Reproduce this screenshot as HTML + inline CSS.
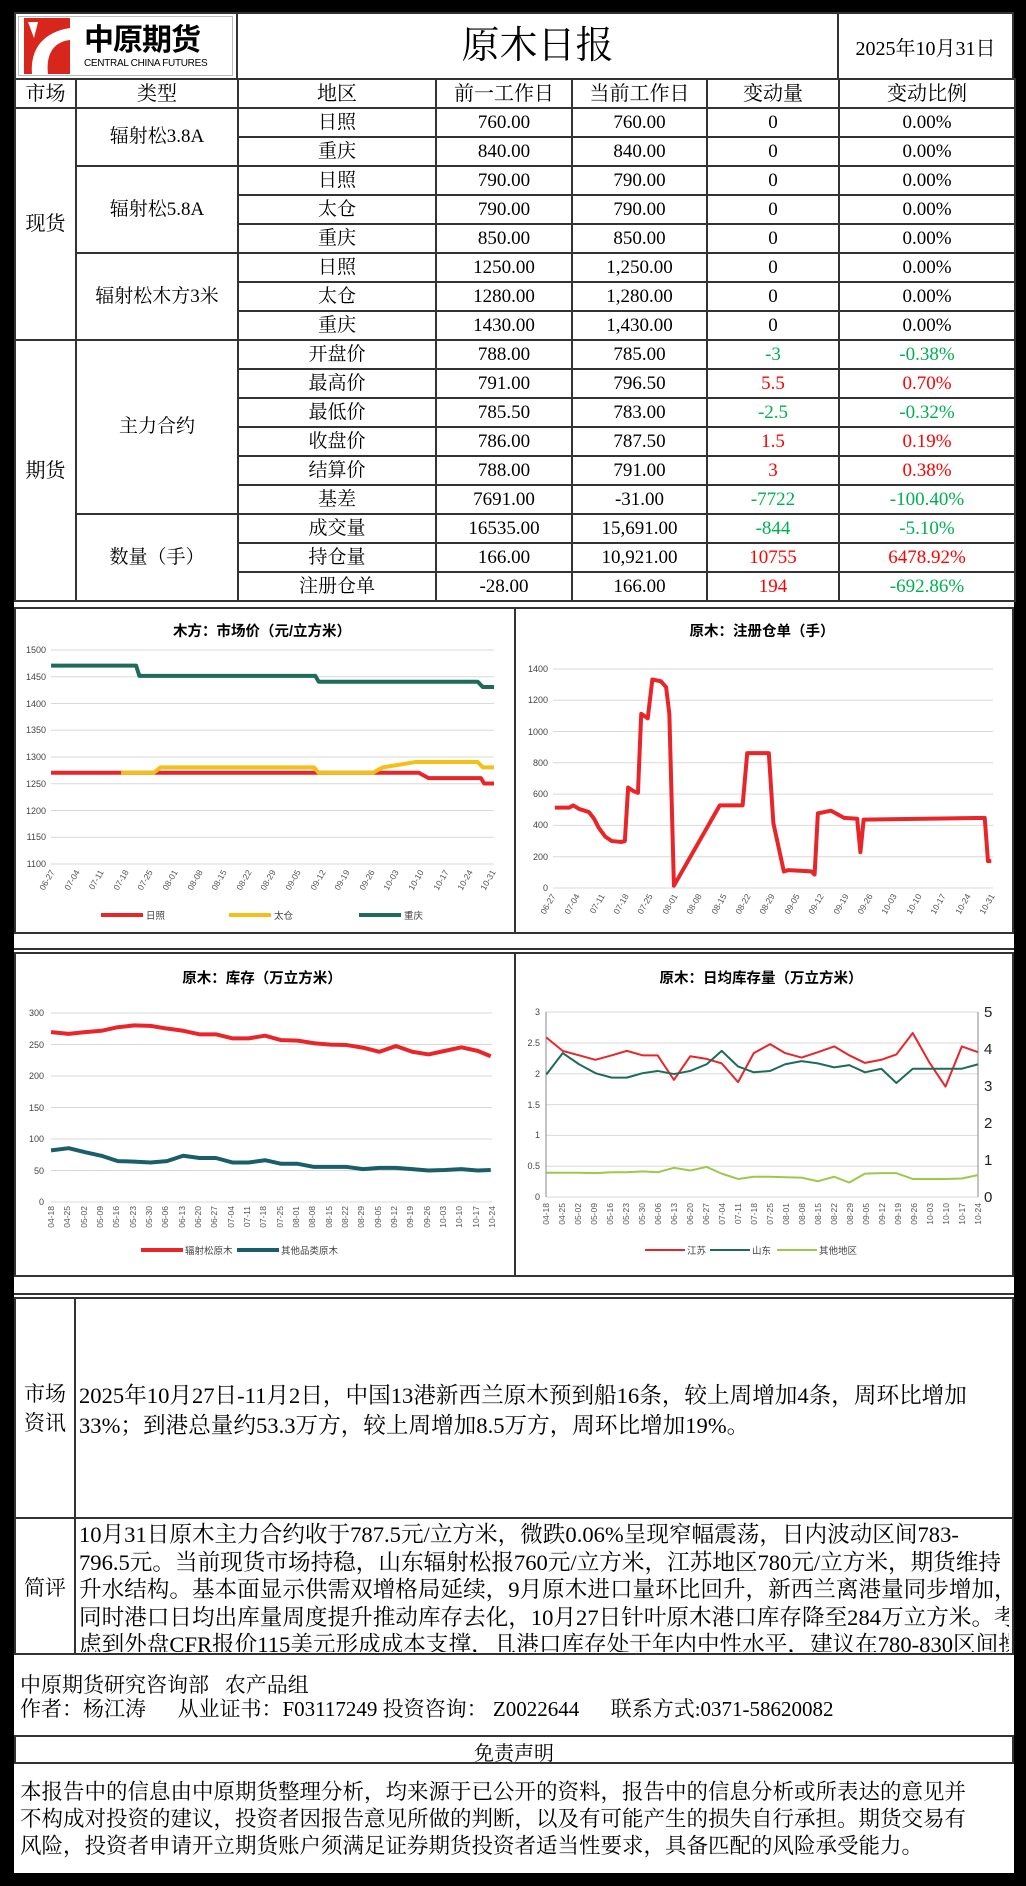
<!DOCTYPE html>
<html><head><meta charset="utf-8"><style>
*{margin:0;padding:0;box-sizing:border-box}
body{width:1026px;height:1886px;background:#000;position:relative;overflow:hidden;font-family:"Liberation Serif","Noto Serif CJK SC",serif;color:#000}
.page{position:absolute;left:14px;top:12px;width:1000px;height:1861px;background:#fff}
.abs{position:absolute}
table{position:absolute;left:14px;top:78px;width:1000px;border-collapse:collapse;table-layout:fixed}
tr{height:29px}
td{border:2px solid #333;text-align:center;font-size:19px;padding:0;line-height:24px;white-space:nowrap}
th{border:2px solid #333;font-weight:normal;font-size:20px;padding:0;line-height:24px}
.g{color:#00b050}.r{color:#f00}
.cell{position:absolute;border:2px solid #333;background:#fff}
.txt{font-size:22.6px;white-space:nowrap;line-height:27.5px}
</style></head><body>
<div class="page"></div>
<!-- header -->
<div class="cell" style="left:14px;top:12px;width:224px;height:68px"></div>
<div class="abs" style="left:18px;top:16px;width:215px;height:60px;border:1px solid #bbb"></div>
<svg class="abs" style="left:24px;top:18px" width="48" height="56"><rect x="0" y="0" width="46" height="56" fill="#d9261c"/><path d="M8 56 C6 30 20 14 46 10 L46 22 C28 24 22 38 24 56Z" fill="#fff"/><path d="M4 4 L14 4 L10 20Z" fill="#fff"/></svg>
<div class="abs" style="left:84px;top:20px;font-size:30px;font-weight:bold;font-family:'Noto Sans CJK SC',sans-serif;letter-spacing:-1px;line-height:34px">中原期货</div>
<div class="abs" style="left:84px;top:58px;font-size:10px;font-family:'Liberation Sans',sans-serif;letter-spacing:-0.3px">CENTRAL CHINA FUTURES</div>
<div class="cell" style="left:236px;top:12px;width:603px;height:68px"></div>
<div class="abs" style="left:236px;top:22px;width:603px;text-align:center;font-size:38px;line-height:48px">原木日报</div>
<div class="cell" style="left:837px;top:12px;width:177px;height:68px"></div>
<div class="abs" style="left:837px;top:32px;width:177px;text-align:center;font-size:20px">2025年10月31日</div>
<table>
<colgroup><col style="width:61px"><col style="width:162px"><col style="width:198px"><col style="width:136px"><col style="width:135px"><col style="width:132px"><col style="width:176px"></colgroup>
<tr><th>市场</th><th>类型</th><th>地区</th><th>前一工作日</th><th>当前工作日</th><th>变动量</th><th>变动比例</th></tr>
<tr><td rowspan="8" style="font-size:20px">现货</td><td rowspan="2">辐射松3.8A</td><td>日照</td><td>760.00</td><td>760.00</td><td>0</td><td>0.00%</td></tr>
<tr><td>重庆</td><td>840.00</td><td>840.00</td><td>0</td><td>0.00%</td></tr>
<tr><td rowspan="3">辐射松5.8A</td><td>日照</td><td>790.00</td><td>790.00</td><td>0</td><td>0.00%</td></tr>
<tr><td>太仓</td><td>790.00</td><td>790.00</td><td>0</td><td>0.00%</td></tr>
<tr><td>重庆</td><td>850.00</td><td>850.00</td><td>0</td><td>0.00%</td></tr>
<tr><td rowspan="3">辐射松木方3米</td><td>日照</td><td>1250.00</td><td>1,250.00</td><td>0</td><td>0.00%</td></tr>
<tr><td>太仓</td><td>1280.00</td><td>1,280.00</td><td>0</td><td>0.00%</td></tr>
<tr><td>重庆</td><td>1430.00</td><td>1,430.00</td><td>0</td><td>0.00%</td></tr>
<tr><td rowspan="9" style="font-size:20px">期货</td><td rowspan="6">主力合约</td><td>开盘价</td><td>788.00</td><td>785.00</td><td class="g">-3</td><td class="g">-0.38%</td></tr>
<tr><td>最高价</td><td>791.00</td><td>796.50</td><td class="r">5.5</td><td class="r">0.70%</td></tr>
<tr><td>最低价</td><td>785.50</td><td>783.00</td><td class="g">-2.5</td><td class="g">-0.32%</td></tr>
<tr><td>收盘价</td><td>786.00</td><td>787.50</td><td class="r">1.5</td><td class="r">0.19%</td></tr>
<tr><td>结算价</td><td>788.00</td><td>791.00</td><td class="r">3</td><td class="r">0.38%</td></tr>
<tr><td>基差</td><td>7691.00</td><td>-31.00</td><td class="g">-7722</td><td class="g">-100.40%</td></tr>
<tr><td rowspan="3">数量（手）</td><td>成交量</td><td>16535.00</td><td>15,691.00</td><td class="g">-844</td><td class="g">-5.10%</td></tr>
<tr><td>持仓量</td><td>166.00</td><td>10,921.00</td><td class="r">10755</td><td class="r">6478.92%</td></tr>
<tr><td>注册仓单</td><td>-28.00</td><td>166.00</td><td class="r">194</td><td class="g">-692.86%</td></tr>
</table>

<!-- charts -->
<div class="cell" style="left:14px;top:607px;width:502px;height:327px"></div>
<div class="cell" style="left:514px;top:607px;width:500px;height:327px"></div>
<div class="abs" style="left:14px;top:948px;width:1000px;height:2px;background:#333"></div>
<div class="cell" style="left:14px;top:952px;width:502px;height:325px"></div>
<div class="cell" style="left:514px;top:952px;width:500px;height:325px"></div>
<svg class="abs" style="left:0;top:600px" width="1026" height="700" font-family="'Liberation Sans','Noto Sans CJK SC',sans-serif">
<g stroke="#d9d9d9" stroke-width="1">
<line x1="51" x2="494" y1="50" y2="50"/><line x1="51" x2="494" y1="76.75" y2="76.75"/><line x1="51" x2="494" y1="103.5" y2="103.5"/><line x1="51" x2="494" y1="130.25" y2="130.25"/><line x1="51" x2="494" y1="157" y2="157"/><line x1="51" x2="494" y1="183.75" y2="183.75"/><line x1="51" x2="494" y1="210.5" y2="210.5"/><line x1="51" x2="494" y1="237.25" y2="237.25"/><line x1="51" x2="494" y1="264" y2="264"/>
<line x1="553" x2="993" y1="288" y2="288"/><line x1="553" x2="993" y1="256.7" y2="256.7"/><line x1="553" x2="993" y1="225.4" y2="225.4"/><line x1="553" x2="993" y1="194.1" y2="194.1"/><line x1="553" x2="993" y1="162.8" y2="162.8"/><line x1="553" x2="993" y1="131.5" y2="131.5"/><line x1="553" x2="993" y1="100.2" y2="100.2"/><line x1="553" x2="993" y1="69" y2="69"/>
<line x1="51" x2="492" y1="602" y2="602"/><line x1="51" x2="492" y1="570.5" y2="570.5"/><line x1="51" x2="492" y1="539" y2="539"/><line x1="51" x2="492" y1="507.5" y2="507.5"/><line x1="51" x2="492" y1="476" y2="476"/><line x1="51" x2="492" y1="444.5" y2="444.5"/><line x1="51" x2="492" y1="413" y2="413"/>
<line x1="546" x2="978" y1="597" y2="597"/><line x1="546" x2="978" y1="566.2" y2="566.2"/><line x1="546" x2="978" y1="535.4" y2="535.4"/><line x1="546" x2="978" y1="504.6" y2="504.6"/><line x1="546" x2="978" y1="473.8" y2="473.8"/><line x1="546" x2="978" y1="443" y2="443"/><line x1="546" x2="978" y1="412" y2="412"/>
</g>
<g stroke="#888" stroke-width="1"><line x1="546" x2="546" y1="412" y2="597"/><line x1="978" x2="978" y1="412" y2="597"/></g>
<g font-weight="bold" font-size="14.5" text-anchor="middle">
<text x="262" y="36">木方：市场价（元/立方米）</text>
<text x="762" y="36">原木：注册仓单（手）</text>
<text x="262" y="383">原木：库存（万立方米）</text>
<text x="761" y="383">原木：日均库存量（万立方米）</text>
</g>
<g font-size="9" fill="#444" text-anchor="end">
<text x="46" y="53">1500</text><text x="46" y="80">1450</text><text x="46" y="107">1400</text><text x="46" y="133">1350</text><text x="46" y="160">1300</text><text x="46" y="187">1250</text><text x="46" y="214">1200</text><text x="46" y="240">1150</text><text x="46" y="267">1100</text>
<text x="548" y="291">0</text><text x="548" y="260">200</text><text x="548" y="228">400</text><text x="548" y="197">600</text><text x="548" y="166">800</text><text x="548" y="135">1000</text><text x="548" y="103">1200</text><text x="548" y="72">1400</text>
<text x="44" y="605">0</text><text x="44" y="574">50</text><text x="44" y="542">100</text><text x="44" y="511">150</text><text x="44" y="479">200</text><text x="44" y="448">250</text><text x="44" y="416">300</text>
<text x="540" y="600">0</text><text x="540" y="569">0.5</text><text x="540" y="538">1</text><text x="540" y="508">1.5</text><text x="540" y="477">2</text><text x="540" y="446">2.5</text><text x="540" y="415">3</text>
</g>
<g font-size="15" fill="#222"><text x="984" y="602">0</text><text x="984" y="565">1</text><text x="984" y="528">2</text><text x="984" y="491">3</text><text x="984" y="454">4</text><text x="984" y="417">5</text></g>
<g font-size="8.5" fill="#555" text-anchor="end">
<g transform="translate(55,272) rotate(-60)"><text>06-27</text></g><g transform="translate(80,272) rotate(-60)"><text>07-04</text></g><g transform="translate(104,272) rotate(-60)"><text>07-11</text></g><g transform="translate(129,272) rotate(-60)"><text>07-18</text></g><g transform="translate(153,272) rotate(-60)"><text>07-25</text></g><g transform="translate(178,272) rotate(-60)"><text>08-01</text></g><g transform="translate(203,272) rotate(-60)"><text>08-08</text></g><g transform="translate(227,272) rotate(-60)"><text>08-15</text></g><g transform="translate(252,272) rotate(-60)"><text>08-22</text></g><g transform="translate(276,272) rotate(-60)"><text>08-29</text></g><g transform="translate(301,272) rotate(-60)"><text>09-05</text></g><g transform="translate(326,272) rotate(-60)"><text>09-12</text></g><g transform="translate(350,272) rotate(-60)"><text>09-19</text></g><g transform="translate(375,272) rotate(-60)"><text>09-26</text></g><g transform="translate(399,272) rotate(-60)"><text>10-03</text></g><g transform="translate(424,272) rotate(-60)"><text>10-10</text></g><g transform="translate(449,272) rotate(-60)"><text>10-17</text></g><g transform="translate(473,272) rotate(-60)"><text>10-24</text></g><g transform="translate(496,272) rotate(-60)"><text>10-31</text></g>
<g transform="translate(556,296) rotate(-60)"><text>06-27</text></g><g transform="translate(580,296) rotate(-60)"><text>07-04</text></g><g transform="translate(605,296) rotate(-60)"><text>07-11</text></g><g transform="translate(629,296) rotate(-60)"><text>07-18</text></g><g transform="translate(653,296) rotate(-60)"><text>07-25</text></g><g transform="translate(678,296) rotate(-60)"><text>08-01</text></g><g transform="translate(702,296) rotate(-60)"><text>08-08</text></g><g transform="translate(727,296) rotate(-60)"><text>08-15</text></g><g transform="translate(751,296) rotate(-60)"><text>08-22</text></g><g transform="translate(775,296) rotate(-60)"><text>08-29</text></g><g transform="translate(800,296) rotate(-60)"><text>09-05</text></g><g transform="translate(824,296) rotate(-60)"><text>09-12</text></g><g transform="translate(849,296) rotate(-60)"><text>09-19</text></g><g transform="translate(873,296) rotate(-60)"><text>09-26</text></g><g transform="translate(897,296) rotate(-60)"><text>10-03</text></g><g transform="translate(922,296) rotate(-60)"><text>10-10</text></g><g transform="translate(946,296) rotate(-60)"><text>10-17</text></g><g transform="translate(971,296) rotate(-60)"><text>10-24</text></g><g transform="translate(995,296) rotate(-60)"><text>10-31</text></g>
</g>
<g font-size="8.5" fill="#555" text-anchor="end">
<g transform="translate(54,606) rotate(-90)"><text>04-18</text></g><g transform="translate(70,606) rotate(-90)"><text>04-25</text></g><g transform="translate(87,606) rotate(-90)"><text>05-02</text></g><g transform="translate(103,606) rotate(-90)"><text>05-09</text></g><g transform="translate(119,606) rotate(-90)"><text>05-16</text></g><g transform="translate(136,606) rotate(-90)"><text>05-23</text></g><g transform="translate(152,606) rotate(-90)"><text>05-30</text></g><g transform="translate(168,606) rotate(-90)"><text>06-06</text></g><g transform="translate(185,606) rotate(-90)"><text>06-13</text></g><g transform="translate(201,606) rotate(-90)"><text>06-20</text></g><g transform="translate(217,606) rotate(-90)"><text>06-27</text></g><g transform="translate(234,606) rotate(-90)"><text>07-04</text></g><g transform="translate(250,606) rotate(-90)"><text>07-11</text></g><g transform="translate(266,606) rotate(-90)"><text>07-18</text></g><g transform="translate(283,606) rotate(-90)"><text>07-25</text></g><g transform="translate(299,606) rotate(-90)"><text>08-01</text></g><g transform="translate(315,606) rotate(-90)"><text>08-08</text></g><g transform="translate(332,606) rotate(-90)"><text>08-15</text></g><g transform="translate(348,606) rotate(-90)"><text>08-22</text></g><g transform="translate(364,606) rotate(-90)"><text>08-29</text></g><g transform="translate(381,606) rotate(-90)"><text>09-05</text></g><g transform="translate(397,606) rotate(-90)"><text>09-12</text></g><g transform="translate(413,606) rotate(-90)"><text>09-19</text></g><g transform="translate(430,606) rotate(-90)"><text>09-26</text></g><g transform="translate(446,606) rotate(-90)"><text>10-03</text></g><g transform="translate(462,606) rotate(-90)"><text>10-10</text></g><g transform="translate(479,606) rotate(-90)"><text>10-17</text></g><g transform="translate(495,606) rotate(-90)"><text>10-24</text></g>
<g transform="translate(549,603) rotate(-90)"><text>04-18</text></g><g transform="translate(565,603) rotate(-90)"><text>04-25</text></g><g transform="translate(581,603) rotate(-90)"><text>05-02</text></g><g transform="translate(597,603) rotate(-90)"><text>05-09</text></g><g transform="translate(613,603) rotate(-90)"><text>05-16</text></g><g transform="translate(629,603) rotate(-90)"><text>05-23</text></g><g transform="translate(645,603) rotate(-90)"><text>05-30</text></g><g transform="translate(661,603) rotate(-90)"><text>06-06</text></g><g transform="translate(677,603) rotate(-90)"><text>06-13</text></g><g transform="translate(693,603) rotate(-90)"><text>06-20</text></g><g transform="translate(709,603) rotate(-90)"><text>06-27</text></g><g transform="translate(725,603) rotate(-90)"><text>07-04</text></g><g transform="translate(741,603) rotate(-90)"><text>07-11</text></g><g transform="translate(757,603) rotate(-90)"><text>07-18</text></g><g transform="translate(773,603) rotate(-90)"><text>07-25</text></g><g transform="translate(789,603) rotate(-90)"><text>08-01</text></g><g transform="translate(805,603) rotate(-90)"><text>08-08</text></g><g transform="translate(821,603) rotate(-90)"><text>08-15</text></g><g transform="translate(837,603) rotate(-90)"><text>08-22</text></g><g transform="translate(853,603) rotate(-90)"><text>08-29</text></g><g transform="translate(869,603) rotate(-90)"><text>09-05</text></g><g transform="translate(885,603) rotate(-90)"><text>09-12</text></g><g transform="translate(901,603) rotate(-90)"><text>09-19</text></g><g transform="translate(917,603) rotate(-90)"><text>09-26</text></g><g transform="translate(933,603) rotate(-90)"><text>10-03</text></g><g transform="translate(949,603) rotate(-90)"><text>10-10</text></g><g transform="translate(965,603) rotate(-90)"><text>10-17</text></g><g transform="translate(981,603) rotate(-90)"><text>10-24</text></g>
</g>
<g transform="scale(0.6543,0.4464)" fill="none" stroke-linejoin="round">
<polyline vector-effect="non-scaling-stroke" stroke="#1e6b5a" stroke-width="4" points="78,147 208,147 213,170 482,170 487,183 730,183 738,195 755,195"/>
<polyline vector-effect="non-scaling-stroke" stroke="#e8262a" stroke-width="4" points="78,387 640,387 655,399 735,399 740,411 755,411"/>
<polyline vector-effect="non-scaling-stroke" stroke="#f5bf1a" stroke-width="4" points="185,387 235,387 245,375 480,375 487,387 570,387 585,375 635,363 730,363 738,375 755,375"/>
<polyline vector-effect="non-scaling-stroke" stroke="#e8262a" stroke-width="4" points="848,465 870,465 876,460 885,468 900,475 908,490 915,510 925,530 935,540 950,542 955,540 960,420 968,428 975,432 980,255 990,265 997,178 1010,182 1018,195 1023,255 1030,640 1100,460 1135,460 1142,343 1175,343 1182,500 1198,608 1205,605 1240,608 1245,615 1250,478 1270,472 1280,480 1290,488 1310,490 1315,565 1320,492 1505,488 1510,585 1515,585"/>
<polyline vector-effect="non-scaling-stroke" stroke="#e8262a" stroke-width="4" points="78,968 105,972 130,968 155,965 180,957 205,953 230,954 255,960 280,965 305,973 330,973 355,982 380,982 405,976 430,986 455,987 480,993 505,996 530,997 555,1003 580,1012 605,999 630,1012 655,1018 680,1010 705,1002 730,1010 750,1022"/>
<polyline vector-effect="non-scaling-stroke" stroke="#1b5e6b" stroke-width="4" points="78,1233 105,1228 130,1237 155,1245 180,1257 205,1258 230,1260 255,1257 280,1245 305,1250 330,1250 355,1260 380,1260 405,1255 430,1263 455,1263 480,1270 505,1270 530,1270 555,1275 580,1272 605,1272 630,1275 655,1278 680,1277 705,1275 730,1278 750,1277"/>
<polyline vector-effect="non-scaling-stroke" stroke="#e8262a" stroke-width="2" points="835,980 860,1010 885,1020 910,1030 935,1020 958,1010 982,1020 1005,1020 1030,1075 1055,1022 1080,1028 1103,1038 1128,1080 1152,1015 1177,995 1200,1015 1225,1025 1250,1013 1275,1000 1298,1020 1322,1037 1347,1030 1370,1018 1395,970 1420,1035 1445,1090 1470,1000 1495,1013"/>
<polyline vector-effect="non-scaling-stroke" stroke="#1e6b5a" stroke-width="2" points="835,1063 860,1015 885,1040 910,1060 935,1070 958,1070 982,1060 1005,1055 1030,1062 1055,1055 1080,1040 1103,1010 1128,1045 1152,1058 1177,1055 1200,1040 1225,1033 1250,1038 1275,1047 1298,1042 1322,1058 1347,1050 1370,1082 1395,1050 1420,1050 1445,1050 1470,1050 1495,1040"/>
<polyline vector-effect="non-scaling-stroke" stroke="#9bc94a" stroke-width="2" points="835,1283 860,1283 885,1283 910,1284 935,1282 958,1282 982,1280 1005,1282 1030,1272 1055,1278 1080,1270 1103,1285 1128,1297 1152,1292 1177,1292 1200,1293 1225,1294 1250,1302 1275,1292 1298,1305 1322,1285 1347,1284 1370,1284 1395,1297 1420,1297 1445,1297 1470,1296 1495,1288"/>
</g>
<g stroke-width="4"><line x1="101" x2="143" y1="315" y2="315" stroke="#e8262a"/><line x1="229" x2="271" y1="315" y2="315" stroke="#f5bf1a"/><line x1="359" x2="401" y1="315" y2="315" stroke="#1e6b5a"/>
<line x1="141" x2="183" y1="650" y2="650" stroke="#e8262a"/><line x1="237" x2="279" y1="650" y2="650" stroke="#1b5e6b"/></g>
<g stroke-width="2"><line x1="645" x2="685" y1="650" y2="650" stroke="#e8262a"/><line x1="710" x2="750" y1="650" y2="650" stroke="#1e6b5a"/><line x1="777" x2="817" y1="650" y2="650" stroke="#9bc94a"/></g>
<g font-size="9.5" fill="#444"><text x="146" y="319">日照</text><text x="274" y="319">太仓</text><text x="404" y="319">重庆</text>
<text x="185" y="654">辐射松原木</text><text x="281" y="654">其他品类原木</text>
<text x="687" y="654">江苏</text><text x="752" y="654">山东</text><text x="819" y="654">其他地区</text></g>
</svg>

<!-- info -->
<div class="abs" style="left:14px;top:1293px;width:1000px;height:2px;background:#333"></div>
<div class="cell" style="left:14px;top:1297px;width:62px;height:222px"></div>
<div class="cell" style="left:74px;top:1297px;width:940px;height:222px"></div>
<div class="abs" style="left:16px;top:1380px;width:58px;text-align:center;font-size:21px;line-height:29px">市场<br>资讯</div>
<div class="abs txt" style="left:79px;top:1381px;line-height:30px">2025年10月27日-11月2日，中国13港新西兰原木预到船16条，较上周增加4条，周环比增加<br>33%；到港总量约53.3万方，较上周增加8.5万方，周环比增加19%。</div>
<div class="cell" style="left:14px;top:1517px;width:62px;height:138px"></div>
<div class="cell" style="left:74px;top:1517px;width:940px;height:138px"></div>
<div class="abs" style="left:16px;top:1572px;width:58px;text-align:center;font-size:21px">简评</div>
<div class="abs txt" style="left:79px;top:1521px;width:930px;height:131px;overflow:hidden">10月31日原木主力合约收于787.5元/立方米，微跌0.06%呈现窄幅震荡，日内波动区间783-<br>796.5元。当前现货市场持稳，山东辐射松报760元/立方米，江苏地区780元/立方米，期货维持<br>升水结构。基本面显示供需双增格局延续，9月原木进口量环比回升，新西兰离港量同步增加，<br>同时港口日均出库量周度提升推动库存去化，10月27日针叶原木港口库存降至284万立方米。考<br>虑到外盘CFR报价115美元形成成本支撑，且港口库存处于年内中性水平，建议在780-830区间操</div>
<div class="abs" style="left:20px;top:1673px;font-size:21px;line-height:24px;white-space:pre">中原期货研究咨询部   农产品组
作者：杨江涛      从业证书：F03117249 投资咨询： Z0022644      联系方式:0371-58620082</div>
<div class="cell" style="left:14px;top:1735px;width:1000px;height:29px"></div>
<div class="abs" style="left:14px;top:1737px;width:1000px;text-align:center;font-size:20px">免责声明</div>
<div class="abs txt" style="left:20px;top:1779px;font-size:21.5px;line-height:27px">本报告中的信息由中原期货整理分析，均来源于已公开的资料，报告中的信息分析或所表达的意见并<br>不构成对投资的建议，投资者因报告意见所做的判断，以及有可能产生的损失自行承担。期货交易有<br>风险，投资者申请开立期货账户须满足证券期货投资者适当性要求，具备匹配的风险承受能力。</div>
</body></html>
